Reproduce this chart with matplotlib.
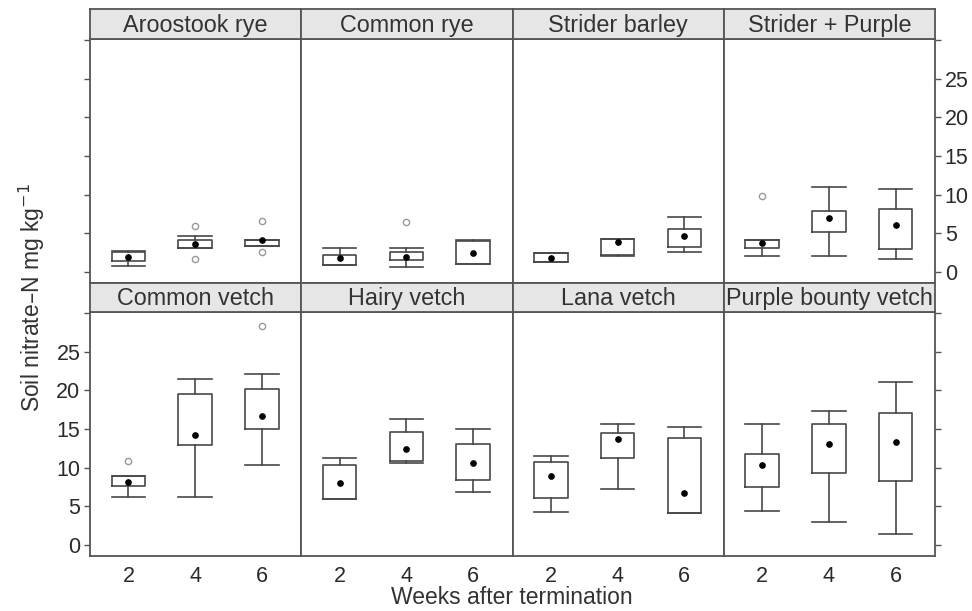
import matplotlib
matplotlib.use("Agg")
import matplotlib.pyplot as plt

plt.rcParams['font.family'] = ['Liberation Sans', 'DejaVu Sans']

panels = ["Aroostook rye", "Common rye", "Strider barley", "Strider + Purple",
          "Common vetch", "Hairy vetch", "Lana vetch", "Purple bounty vetch"]
weeks = ["2", "4", "6"]

whislo = [[0.8, 3.09, 3.4], [0.97, 0.66, 1.1], [1.28, 2.07, 2.6], [2.12, 2.12, 1.68],
          [6.23, 6.23, 10.3], [6.0, 10.6, 6.9], [4.25, 7.2, 4.17], [4.47, 2.97, 1.38]]
q1 = [[1.42, 3.09, 3.4], [0.97, 1.55, 1.1], [1.28, 2.2, 3.22], [3.09, 5.16, 3.0],
      [7.6, 12.98, 15.0], [6.0, 10.8, 8.4], [6.1, 11.2, 4.17], [7.5, 9.3, 8.25]]
q3 = [[2.57, 4.19, 4.19], [2.2, 2.57, 3.97], [2.43, 4.28, 5.6], [4.19, 7.94, 8.16],
      [8.89, 19.5, 20.15], [10.4, 14.6, 13.1], [10.7, 14.5, 13.8], [11.8, 15.7, 17.1]]
whishi = [[2.78, 4.72, 4.19], [3.09, 3.09, 4.19], [2.43, 4.28, 7.1], [4.19, 11.0, 10.7],
          [8.89, 21.4, 22.1], [11.3, 16.3, 15.0], [11.56, 15.7, 15.3], [15.7, 17.3, 21.05]]
means = [[2.0, 3.62, 4.1], [1.77, 1.98, 2.5], [1.85, 3.84, 4.72], [3.75, 6.93, 6.08],
         [8.2, 14.2, 16.7], [8.04, 12.4, 10.6], [8.9, 13.7, 6.7], [10.3, 13.1, 13.3]]
outliers = [[[], [5.95, 1.64], [6.6, 2.57]], [[], [6.5], []], [[], [], []], [[9.84], [], []],
            [[10.8], [], [28.3]], [[], [], []], [[], [], []], [[], [], []]]

yticks = [0, 5, 10, 15, 20, 25, 30]
yticklabels = ["0", "5", "10", "15", "20", "25", ""]

W, H = 972, 611
fig = plt.figure(figsize=(W / 100, H / 100), dpi=100)

edge = '#555555'
boxc = '#484848'
left0, pw = 90, 211.25
rows = [(9, 39, 283), (283, 312, 556)]  # strip top, panel top, panel bottom

for i, name in enumerate(panels):
    r, c = divmod(i, 4)
    st, pt, pb = rows[r]
    x0 = left0 + c * pw
    ax = fig.add_axes([x0 / W, (H - pb) / H, pw / W, (pb - pt) / H])
    stats = []
    for k in range(3):
        stats.append(dict(whislo=whislo[i][k], q1=q1[i][k], med=means[i][k],
                          q3=q3[i][k], whishi=whishi[i][k], mean=means[i][k],
                          fliers=outliers[i][k], label=weeks[k]))
    ax.bxp(stats, positions=[1, 2, 3], widths=0.5, capwidths=0.5, showmeans=True,
           boxprops=dict(color=boxc, linewidth=1.2),
           whiskerprops=dict(color=boxc, linewidth=1.2),
           capprops=dict(color=boxc, linewidth=1.2),
           medianprops=dict(visible=False),
           meanprops=dict(marker='o', markerfacecolor='black', markeredgecolor='black',
                          markersize=3.8),
           flierprops=dict(marker='o', markerfacecolor='none', markeredgecolor='#999999',
                           markersize=4.5, markeredgewidth=1.0))
    ax.set_xlim(0.425, 3.59)
    ax.set_ylim(-1.4, 30.1)
    for s in ax.spines.values():
        s.set_color(edge)
        s.set_linewidth(1.3)
    ax.set_yticks(yticks)
    ax.set_yticklabels(yticklabels)
    ax.tick_params(axis='y', direction='out', length=4.5, width=1.0, color=edge,
                   labelsize=15.5, labelcolor='#2a2a2a', pad=2.5,
                   left=False, right=False, labelleft=False, labelright=False)
    if c == 0:
        ax.tick_params(axis='y', left=True, labelleft=(r == 1))
    if c == 3:
        ax.tick_params(axis='y', right=True, labelright=(r == 0))
    ax.tick_params(axis='x', length=0, labelsize=15.5, labelcolor='#2a2a2a', pad=7,
                   labelbottom=(r == 1))
    # strip
    sax = fig.add_axes([x0 / W, (H - pt) / H, pw / W, (pt - st) / H])
    sax.set_facecolor('#e6e6e6')
    sax.set_xticks([])
    sax.set_yticks([])
    for s in sax.spines.values():
        s.set_color(edge)
        s.set_linewidth(1.3)
    sax.text(0.5, 0.45, name, ha='center', va='center', fontsize=16.8, color='#333333',
             transform=sax.transAxes)

fig.text(32 / W, 1 - 297 / H, "Soil nitrate\u2013N mg kg$^{-1}$", rotation=90,
         ha='center', va='center', fontsize=16.5, color='#333333')
fig.text(512 / W, 14 / H, "Weeks after termination", ha='center', va='center',
         fontsize=16.5, color='#333333')

fig.savefig("out.png", dpi=100)
